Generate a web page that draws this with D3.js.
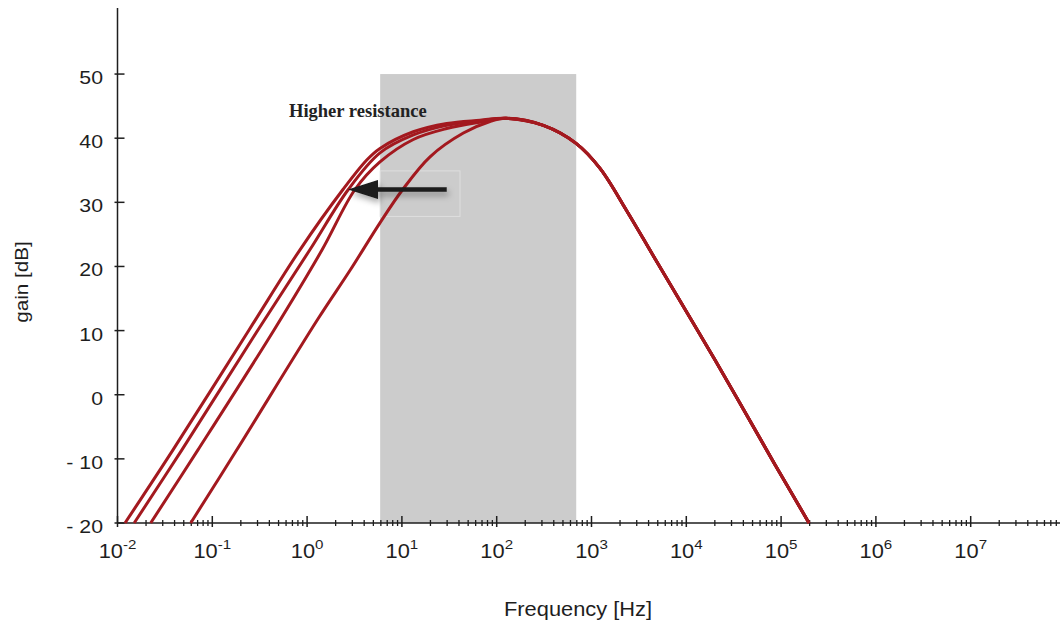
<!DOCTYPE html>
<html>
<head>
<meta charset="utf-8">
<style>
  body { margin: 0; background: #fff; }
  svg { display: block; font-family: "Liberation Sans", Arial, sans-serif; }
</style>
</head>
<body>
<svg width="1060" height="628"></svg>
<script src="https://d3js.org/d3.v7.min.js"></script>
<script>
// values: [frequency Hz, gain dB]
var curve1 = [[0.012,-20],[0.0385,-8.6],[0.244,10.1],[0.841,22.6],[2.39,32.0],[4.26,36.6],[5.87,38.4],[13.2,41.0],[29.7,42.3],[66.7,42.8]];
var curve2 = [[0.0150,-20],[0.0478,-8.6],[0.303,10.1],[1.07,22.6],[2.72,32.0],[5.87,37.7],[13.2,40.5],[29.7,42.0],[66.7,42.7]];
var curve3 = [[0.0224,-20],[0.0706,-8.6],[0.448,10.1],[1.44,22.6],[3.20,32.0],[5.87,36.3],[13.2,39.8],[29.7,41.5],[66.7,42.5]];
var curve4 = [[0.0592,-20],[0.176,-8.9],[1.30,11.8],[2.84,19.4],[5.87,26.8],[10.2,32.0],[19.8,37.1],[44.5,40.8],[84.9,42.6]];
// common high-frequency roll-off
var rolloff = [[125,43.1],[310,42.0],[687,39.2],[1230,35.3],[2350,28.7],[4680,21.2],[20100,5.4],[86300,-10.9],[197000,-20]];

var xTickExps = [-2,-1,0,1,2,3,4,5,6,7];
var yTicks = [-20,-10,0,10,20,30,40,50];
var yTickLabels = ["- 20","- 10","0","10","20","30","40","50"];

var band = {low: 5.9, high: 690, top: 50};
var arrowFrom = [29.7, 32.0], arrowTo = [2.70, 32.0];
var note = {text: "Higher resistance", f: 0.644, db: 43.35};

var svg = d3.select("svg");
var x = d3.scaleLog().domain([0.01, 8.75e7]).range([117.5, 1060]);
var y = d3.scaleLinear().domain([-20, 60.3]).range([523, 8]);
var ink = "#1e1e1e", red = "#a3191f", stretch = "scale(1.12,1)";

var defs = svg.append("defs");
var f = defs.append("filter").attr("id", "sh").attr("x", "-30%").attr("y", "-60%").attr("width", "160%").attr("height", "260%");
f.append("feDropShadow").attr("dx", 2).attr("dy", 4).attr("stdDeviation", 3)
  .attr("flood-color", "#000").attr("flood-opacity", 0.35);

// shaded band
svg.append("rect")
  .attr("x", x(band.low)).attr("y", y(band.top))
  .attr("width", x(band.high) - x(band.low)).attr("height", y(-20) - y(band.top))
  .attr("fill", "#cccccc");

// faint box behind the arrow
svg.append("rect")
  .attr("x", x(band.low)).attr("y", y(34.9))
  .attr("width", x(41) - x(band.low)).attr("height", y(27.8) - y(34.9))
  .attr("fill", "none").attr("stroke", "#dedede").attr("stroke-width", 1);

// axes
svg.append("line").attr("x1", x(0.01)).attr("x2", x(0.01)).attr("y1", 8).attr("y2", y(-20))
  .attr("stroke", ink).attr("stroke-width", 1.5);
svg.append("line").attr("x1", x(0.01)).attr("x2", 1060).attr("y1", y(-20)).attr("y2", y(-20))
  .attr("stroke", ink).attr("stroke-width", 1.5);

svg.selectAll(".yt").data(yTicks).enter().append("line")
  .attr("x1", x(0.01) - 3).attr("x2", x(0.01) + 7)
  .attr("y1", function(d) { return y(d); }).attr("y2", function(d) { return y(d); })
  .attr("stroke", ink).attr("stroke-width", 1.5);

svg.selectAll(".yl").data(yTicks).enter().append("g")
  .attr("transform", function(d) { return "translate(103," + (y(d) + 10) + ") " + stretch; })
  .append("text").attr("text-anchor", "end").attr("font-size", 19).attr("fill", ink)
  .text(function(d, i) { return yTickLabels[i]; });

var minor = [];
xTickExps.forEach(function(e) {
  for (var k = 2; k <= 9; k++) { var v = k * Math.pow(10, e); if (v < x.domain()[1]) minor.push(v); }
});
svg.selectAll(".xm").data(minor).enter().append("line")
  .attr("x1", function(d) { return x(d); }).attr("x2", function(d) { return x(d); })
  .attr("y1", y(-20) - 3).attr("y2", y(-20) + 3)
  .attr("stroke", ink).attr("stroke-width", 1.3);
svg.selectAll(".xM").data(xTickExps).enter().append("line")
  .attr("x1", function(d) { return x(Math.pow(10, d)); }).attr("x2", function(d) { return x(Math.pow(10, d)); })
  .attr("y1", y(-20) - 7).attr("y2", y(-20) + 4)
  .attr("stroke", ink).attr("stroke-width", 1.5);

var xl = svg.selectAll(".xl").data(xTickExps).enter().append("g")
  .attr("transform", function(d) { return "translate(" + x(Math.pow(10, d)) + ",557.5) " + stretch; })
  .append("text").attr("text-anchor", "middle").attr("fill", ink);
xl.append("tspan").attr("font-size", 19.5).text("10");
xl.append("tspan").attr("font-size", 13.5).attr("dy", -8.5).text(function(d) { return d; });

// axis titles
svg.append("g").attr("transform", "translate(578,616) " + stretch)
  .append("text").attr("text-anchor", "middle").attr("font-size", 19.5).attr("fill", ink)
  .text("Frequency [Hz]");
svg.append("g").attr("transform", "translate(28,282) rotate(-90) " + stretch)
  .append("text").attr("text-anchor", "middle").attr("font-size", 18.5).attr("fill", ink)
  .text("gain [dB]");

// curves
var line = d3.line()
  .x(function(d) { return x(d[0]); })
  .y(function(d) { return y(d[1]); })
  .curve(d3.curveCatmullRom.alpha(0.5));

var series = [curve4, curve3, curve2, curve1].map(function(c) { return c.concat(rolloff); });
svg.selectAll(".curve").data(series).enter().append("path")
  .attr("d", line)
  .attr("fill", "none").attr("stroke", red).attr("stroke-width", 3);

// arrow
var ay = y(arrowFrom[1]), tip = x(arrowTo[0]), base = tip + 30;
var ag = svg.append("g").attr("filter", "url(#sh)");
ag.append("line").attr("x1", x(arrowFrom[0])).attr("x2", base - 2).attr("y1", ay).attr("y2", ay)
  .attr("stroke", "#1a1a1a").attr("stroke-width", 4.5);
ag.append("path")
  .attr("d", "M" + tip + "," + ay + "L" + base + "," + (ay - 9.5) + "L" + base + "," + (ay + 9.5) + "Z")
  .attr("fill", "#1a1a1a");

// annotation
svg.append("g").attr("transform", "translate(" + x(note.f) + "," + y(note.db) + ") scale(1.03,1)")
  .append("text").attr("font-family", "'Liberation Serif', 'Times New Roman', serif")
  .attr("font-weight", "bold").attr("font-size", 18).attr("fill", "#222")
  .text(note.text);
</script>
</body>
</html>
